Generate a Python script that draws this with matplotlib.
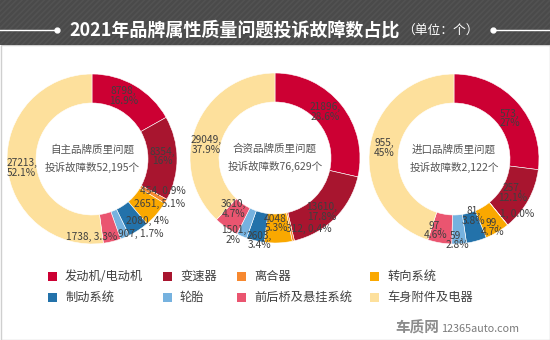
import matplotlib
matplotlib.use('Agg')
import matplotlib.pyplot as plt
from matplotlib.patches import Rectangle
import numpy as np

plt.rcParams['font.family'] = ['Noto Sans CJK SC', 'DejaVu Sans']
plt.rcParams['hatch.linewidth'] = 1.2

# data
categories = ['发动机/电动机', '变速器', '离合器', '转向系统',
              '制动系统', '轮胎', '前后桥及悬挂系统', '车身附件及电器']
colors = ['#cc0033', '#a8152f', '#f7882f', '#faa800',
          '#2372aa', '#76b2df', '#ea5570', '#fde09c']

own_values = [8798, 8354, 454, 2651, 2080, 907, 1738, 27213]
own_pcts = ['16.9%', '16%', '0.9%', '5.1%', '4%', '1.7%', '3.3%', '52.1%']
joint_values = [21896, 13610, 312, 4048, 2603, 1501, 3610, 29049]
joint_pcts = ['28.6%', '17.8%', '0.4%', '5.3%', '3.4%', '2%', '4.7%', '37.9%']
import_values = [573, 257, 1, 99, 81, 59, 97, 955]
import_pcts = ['27%', '12.1%', '0.0%', '4.7%', '3.8%', '2.8%', '4.6%', '45%']

center_titles = ['自主品牌质里问题', '合资品牌质里问题', '进口品牌质里问题']
title = '2021年品牌属性质量问题投诉故障数占比'
unit = '（单位：个）'

# layout (pixels)
W, H = 550, 340
R_OUT, RING = 85, 29
pies = [
    dict(values=own_values, pcts=own_pcts, cx=92, cy=159, oneline={2, 3, 4, 5, 6},
         nudge=[(-4, -2), (0, -2), (10, -3), (14, -1), (17, 3), (21, 10), (-17, 9), (0, 4)]),
    dict(values=joint_values, pcts=joint_pcts, cx=275, cy=158, oneline={2},
         nudge=[(-5, -2), (-3, 4), (19, 2), (-1, -5), (1, 14), (-14, 12), (-1, -7), (-3, 13)]),
    dict(values=import_values, pcts=import_pcts, cx=454, cy=159, oneline={2},
         nudge=[(3, 6), (-3, 0), (19, 0), (3, 8), (1, -11), (-1, 11), (-6, 2), (0, 0)]),
]

fig = plt.figure(figsize=(W / 100, H / 100), dpi=100)
bg = fig.add_axes([0, 0, 1, 1])
bg.set_xlim(0, W)
bg.set_ylim(H, 0)
bg.axis('off')

# body frame
bg.add_patch(Rectangle((0.5, 45), W - 1, H - 45.5, facecolor='white', edgecolor='#cfcfcf', lw=1))

# header with faint diagonal stripes
bg.add_patch(Rectangle((0, 0), W, 45, facecolor='#4a4a4a', edgecolor='#525252',
                       hatch='//////', lw=0))
bg.plot([0, 57], [30, 30], color='white', lw=1)
bg.plot([493, W], [30, 30], color='white', lw=1)
bg.plot([57, 493], [30, 30], 'o', color='white', ms=3.5)
bg.text(69, 30.5, title, color='white', fontsize=13, fontweight='bold',
        ha='left', va='center')
bg.text(402, 31, unit, color='white', fontsize=9.2, ha='left', va='center')

# donuts
for i, p in enumerate(pies):
    size = 220
    ax = fig.add_axes([(p['cx'] - size / 2) / W, (H - p['cy'] - size / 2) / H,
                       size / W, size / H])
    wedges, _ = ax.pie(p['values'], colors=colors, radius=R_OUT, startangle=90,
                       counterclock=False,
                       wedgeprops=dict(width=RING, edgecolor='white', linewidth=0.4))
    ax.set_xlim(-size / 2, size / 2)
    ax.set_ylim(-size / 2, size / 2)
    ax.axis('off')
    r_mid = R_OUT - RING / 2
    for j, w in enumerate(wedges):
        ang = np.deg2rad((w.theta1 + w.theta2) / 2)
        dx, dy = p['nudge'][j]
        x = r_mid * np.cos(ang) + dx
        y = r_mid * np.sin(ang) - dy
        sep = ', ' if j in p['oneline'] else ',\n'
        ax.text(x, y, f"{p['values'][j]}{sep}{p['pcts'][j]}", ha='center', va='center',
                fontsize=7.3, color='#3f3f3f', linespacing=0.95, clip_on=False)
    total = sum(p['values'])
    ax.text(0, 0, f"{center_titles[i]}\n投诉故障数{total:,}个", ha='center', va='center',
            fontsize=7.6, color='#555555', linespacing=1.75)

# legend
col_x = [48, 163, 237, 370]
row_y = [276, 297]
for k, (name, c) in enumerate(zip(categories, colors)):
    x0 = col_x[k % 4]
    y0 = row_y[k // 4]
    bg.add_patch(Rectangle((x0, y0 - 4.5), 9, 9, facecolor=c, lw=0))
    bg.text(x0 + 17, y0, name, fontsize=8.8, color='#404040', ha='left', va='center')

# watermark
bg.text(395, 328, '车质网', fontsize=10.5, fontweight='bold', color='#8c8c8c',
        ha='left', va='center')
bg.text(441, 329.5, '12365auto.com', fontsize=7.8, color='#7a7a7a', ha='left', va='center')

fig.savefig('out.png', dpi=100)
